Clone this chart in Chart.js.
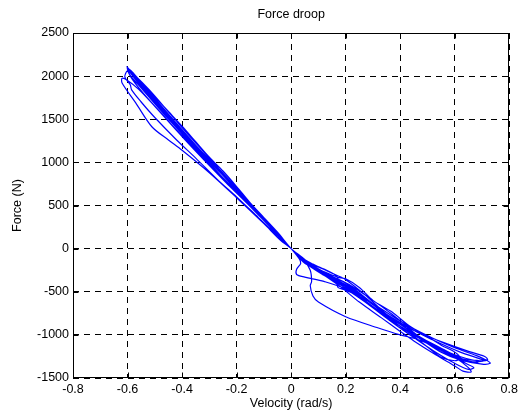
<!DOCTYPE html>
<html>
<head>
<meta charset="utf-8">
<script src="https://cdn.jsdelivr.net/npm/chart.js@4"></script>
<style>
  html, body { margin: 0; padding: 0; background: #fff; }
</style>
</head>
<body>
<canvas id="droop-chart" width="522" height="412"></canvas>
<script>
// force vs velocity trace
const velocity = [
  -0.603, -0.59, -0.55, -0.5, -0.45, -0.4, -0.35, -0.3, -0.25, -0.2, -0.15, -0.1, -0.05, 0, 0.04, 0.08, 0.14, 0.2, 0.28, 0.36, 0.44, 0.52, 0.6, 0.66, 0.71, 0.69,
  0.62, 0.52, 0.44, 0.37, 0.3, 0.22, 0.15, 0.08, 0.03, 0, -0.05, -0.1, -0.15, -0.2, -0.25, -0.3, -0.35, -0.4, -0.45, -0.5, -0.55, -0.58, -0.59,
  -0.57, -0.52, -0.45, -0.38, -0.3, -0.22, -0.15, -0.08, -0.03, 0, 0.03, 0.035, 0.02, 0.02, 0.05, 0.12, 0.2, 0.3, 0.4, 0.48, 0.56, 0.64, 0.71, 0.72, 0.68,
  0.6, 0.5, 0.42, 0.35, 0.28, 0.2, 0.12, 0.05, 0, -0.1, -0.2, -0.3, -0.4, -0.5, -0.56, -0.6, -0.62, -0.62,
  -0.57, -0.51, -0.45, -0.4, -0.3, -0.2, -0.1, -0.04, 0, 0.05, 0.07, 0.075, 0.07, 0.08, 0.1, 0.2, 0.32, 0.4, 0.47, 0.55, 0.6, 0.65, 0.66, 0.63, 0.6,
  0.53, 0.45, 0.4, 0.33, 0.25, 0.18, 0.1, 0.04, 0, -0.06, -0.12, -0.2, -0.28, -0.36, -0.44, -0.52, -0.57, -0.595, -0.59,
  -0.55, -0.47, -0.4, -0.32, -0.24, -0.16, -0.08, 0, 0.05, 0.1, 0.17, 0.2, 0.25, 0.3, 0.37, 0.44, 0.52, 0.6, 0.68, 0.72, 0.73, 0.7,
  0.62, 0.55, 0.48, 0.4, 0.32, 0.24, 0.16, 0.08, 0.02, 0, -0.05, -0.1, -0.2, -0.3, -0.4, -0.5, -0.58, -0.6, -0.61, -0.59,
  -0.585, -0.55, -0.5, -0.42, -0.35, -0.27, -0.2, -0.12, -0.05, 0, 0.04, 0.08, 0.13, 0.17, 0.17, 0.2, 0.3, 0.4, 0.5, 0.55, 0.6, 0.62, 0.6, 0.55,
  0.5, 0.43, 0.35, 0.27, 0.2, 0.12, 0.05, 0, -0.08, -0.16, -0.25, -0.35, -0.45, -0.55, -0.6,
  -0.595, -0.56, -0.48, -0.4, -0.32, -0.24, -0.16, -0.08, 0, 0.06, 0.12, 0.2, 0.28, 0.36, 0.42, 0.5, 0.58, 0.64, 0.67, 0.65, 0.6,
  0.52, 0.44, 0.36, 0.28, 0.2, 0.12, 0.05, 0, -0.07, -0.15, -0.25, -0.35, -0.45, -0.53, -0.58, -0.6, -0.59,
  -0.56, -0.48, -0.4, -0.3, -0.2, -0.1, 0, 0.05, 0.1, 0.2, 0.3, 0.4, 0.48, 0.56, 0.63, 0.69, 0.68, 0.62,
  0.55, 0.46, 0.38, 0.3, 0.22, 0.14, 0.06, 0, -0.08, -0.18, -0.28, -0.38, -0.48, -0.56, -0.6
];
const force = [
  2115, 2040, 1880, 1700, 1520, 1350, 1180, 1010, 850, 690, 520, 350, 170, 0, -110, -180, -270, -360, -560, -790, -960, -1110, -1250, -1310, -1300, -1275,
  -1200, -1060, -930, -760, -600, -430, -320, -200, -80, 0, 190, 360, 530, 720, 900, 1060, 1240, 1420, 1590, 1760, 1930, 2040, 2070,
  1980, 1780, 1530, 1290, 1030, 770, 530, 280, 100, 0, -120, -170, -240, -300, -330, -380, -470, -680, -870, -990, -1090, -1180, -1250, -1290, -1300,
  -1230, -1090, -900, -760, -600, -420, -280, -140, 0, 340, 660, 980, 1300, 1650, 1850, 1950, 1975, 1920,
  1690, 1410, 1260, 1140, 880, 590, 290, 100, 0, -150, -250, -380, -430, -550, -620, -790, -920, -1000, -1060, -1180, -1260, -1380, -1430, -1420, -1360,
  -1230, -1070, -960, -800, -620, -440, -260, -100, 0, 200, 410, 700, 980, 1260, 1550, 1840, 2000, 2060, 2000,
  1830, 1550, 1300, 1030, 770, 520, 260, 0, -170, -240, -330, -350, -450, -600, -735, -910, -1040, -1150, -1240, -1300, -1330, -1340,
  -1290, -1200, -1060, -900, -730, -530, -360, -210, -60, 0, 180, 350, 680, 1020, 1370, 1720, 2010, 2060, 1990, 1900,
  1840, 1700, 1520, 1260, 1050, 800, 600, 360, 150, 0, -130, -190, -250, -330, -445, -480, -640, -840, -1020, -1120, -1200, -1270, -1300, -1260,
  -1140, -970, -790, -600, -440, -300, -150, 0, 270, 550, 850, 1180, 1540, 1900, 2100,
  2030, 1900, 1610, 1330, 1060, 790, 540, 270, 0, -180, -290, -420, -590, -800, -950, -1090, -1220, -1330, -1380, -1400, -1330,
  -1180, -1010, -830, -640, -460, -310, -160, 0, 230, 500, 860, 1200, 1560, 1850, 2020, 2080, 2010,
  1870, 1580, 1310, 990, 650, 330, 0, -160, -250, -400, -640, -900, -1040, -1170, -1280, -1300, -1320, -1290,
  -1180, -1010, -860, -650, -470, -320, -170, 0, 260, 610, 950, 1300, 1650, 1940, 2080
];

const xTicks = [-0.8, -0.6, -0.4, -0.2, 0, 0.2, 0.4, 0.6, 0.8];
const yTicks = [-1500, -1000, -500, 0, 500, 1000, 1500, 2000, 2500];

const fam = '"Liberation Sans", Arial, sans-serif';
const txt = { family: fam, size: 12.5 };

const points = velocity.map((v, i) => ({ x: v, y: force[i] }));

// matlab style box, inward ticks and the title
const frame = {
  id: 'frame',
  afterDraw(chart) {
    const ctx = chart.ctx;
    const a = chart.chartArea;
    const l = Math.round(a.left) + 0.5, r = Math.round(a.right) - 0.5;
    const t = Math.round(a.top) + 0.5, b = Math.round(a.bottom) - 0.5;
    ctx.save();
    ctx.setLineDash([]);
    ctx.strokeStyle = '#000';
    ctx.lineWidth = 1;
    ctx.strokeRect(l, t, r - l, b - t);
    ctx.beginPath();
    xTicks.forEach(v => {
      const px = Math.round(chart.scales.x.getPixelForValue(v)) + 0.5;
      ctx.moveTo(px, b); ctx.lineTo(px, b - 5);
      ctx.moveTo(px, t); ctx.lineTo(px, t + 5);
    });
    yTicks.forEach(v => {
      const py = Math.round(chart.scales.y.getPixelForValue(v)) + 0.5;
      ctx.moveTo(l, py); ctx.lineTo(l + 5, py);
      ctx.moveTo(r, py); ctx.lineTo(r - 5, py);
    });
    ctx.stroke();
    ctx.fillStyle = '#000';
    ctx.font = '12.5px ' + fam;
    ctx.textAlign = 'center';
    ctx.textBaseline = 'middle';
    ctx.fillText('Force droop', (a.left + a.right) / 2, 15);
    ctx.restore();
  }
};

new Chart(document.getElementById('droop-chart'), {
  type: 'scatter',
  data: {
    datasets: [{
      data: points,
      showLine: true,
      borderColor: 'rgb(0,0,255)',
      borderWidth: 1.2,
      pointRadius: 0,
      tension: 0.3,
      fill: false
    }]
  },
  options: {
    responsive: false,
    animation: false,
    layout: { padding: { top: 33, right: 10, left: 0, bottom: 0 } },
    plugins: { legend: { display: false }, tooltip: { enabled: false } },
    scales: {
      x: {
        type: 'linear',
        min: -0.8, max: 0.8,
        afterFit(s) { s.height = 34; },
        afterBuildTicks(s) { s.ticks = xTicks.map(v => ({ value: v })); },
        ticks: {
          color: '#000', font: txt, padding: 4, maxRotation: 0, autoSkip: false,
          callback: v => (Math.abs(v) < 1e-9 ? '0' : Number(v).toFixed(1))
        },
        grid: { color: '#000', lineWidth: 1, drawTicks: false },
        border: { display: false, dash: [6, 5] },
        title: { display: true, text: 'Velocity (rad/s)', color: '#000', font: txt, padding: { top: 0, bottom: 1 } }
      },
      y: {
        type: 'linear',
        min: -1500, max: 2500,
        afterFit(s) { s.width = 73; },
        afterBuildTicks(s) { s.ticks = yTicks.map(v => ({ value: v })); },
        ticks: { color: '#000', font: txt, padding: 4, callback: v => String(v) },
        grid: { color: '#000', lineWidth: 1, drawTicks: false },
        border: { display: false, dash: [6, 5] },
        title: { display: true, text: 'Force (N)', color: '#000', font: txt, padding: { top: 10, bottom: 0 } }
      }
    }
  },
  plugins: [frame]
});
</script>
</body>
</html>
